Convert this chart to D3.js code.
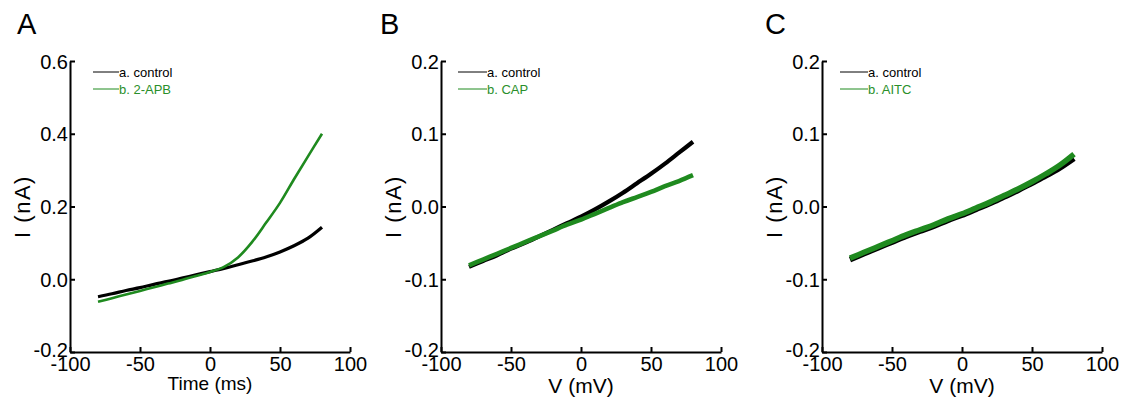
<!DOCTYPE html>
<html>
<head>
<meta charset="utf-8">
<script src="https://cdn.jsdelivr.net/npm/d3@7"></script>
<style>
  html, body { margin: 0; padding: 0; background: #fff; }
  svg { display: block; font-family: "Liberation Sans", Arial, sans-serif; }
</style>
</head>
<body>
<svg id="chart" width="1121" height="408"></svg>
<script>
// ---- data ----
const voltages = [-80, -70, -60, -50, -40, -30, -20, -10, 0, 10, 20, 30, 40, 50, 60, 70, 80];

const aControl = [-0.048, -0.040, -0.031, -0.023, -0.014, -0.006, 0.003, 0.012, 0.021, 0.030, 0.040, 0.050, 0.061, 0.075, 0.092, 0.113, 0.143];
const a2APB    = [-0.062, -0.052, -0.042, -0.032, -0.022, -0.012, -0.002, 0.009, 0.020, 0.034, 0.060, 0.102, 0.155, 0.210, 0.275, 0.338, 0.400];

const bControl = [-0.083, -0.075, -0.067, -0.058, -0.050, -0.041, -0.032, -0.023, -0.014, -0.004, 0.007, 0.019, 0.032, 0.045, 0.059, 0.074, 0.089];
const bCAP     = [-0.081, -0.073, -0.065, -0.057, -0.049, -0.041, -0.033, -0.025, -0.018, -0.010, -0.002, 0.006, 0.013, 0.020, 0.028, 0.035, 0.043];

const cControl = [-0.073, -0.065, -0.057, -0.049, -0.041, -0.034, -0.027, -0.019, -0.012, -0.004, 0.004, 0.013, 0.022, 0.032, 0.042, 0.053, 0.066];
const cAITC    = [-0.071, -0.063, -0.055, -0.047, -0.039, -0.032, -0.025, -0.017, -0.010, -0.002, 0.006, 0.015, 0.024, 0.034, 0.045, 0.057, 0.072];

const xTicks = [-100, -50, 0, 50, 100];
const yTicksA = [-0.2, 0.0, 0.2, 0.4, 0.6];
const yTicksBC = [-0.2, -0.1, 0.0, 0.1, 0.2];

const panels = [
  { letter: "A", left: 70,  letterX: -53, legX: 23, legLen: 26, yDomain: [-0.2, 0.6], yTicks: yTicksA,
    xLabel: "Time (ms)", xLabelSize: 19, xLabelY: 390,
    series: [{ name: "a. control", values: aControl, color: "#000", w: 3.2 },
             { name: "b. 2-APB", values: a2APB, color: "#1f8a1f", w: 2.6 }] },
  { letter: "B", left: 441, letterX: -61, legX: 17, legLen: 29, yDomain: [-0.2, 0.2], yTicks: yTicksBC,
    xLabel: "V (mV)", xLabelSize: 21, xLabelY: 393,
    series: [{ name: "a. control", values: bControl, color: "#000", w: 4.2 },
             { name: "b. CAP", values: bCAP, color: "#1f8a1f", w: 4.6 }] },
  { letter: "C", left: 822, letterX: -57, legX: 18, legLen: 28, yDomain: [-0.2, 0.2], yTicks: yTicksBC,
    xLabel: "V (mV)", xLabelSize: 21, xLabelY: 393,
    series: [{ name: "a. control", values: cControl, color: "#000", w: 5.5 },
             { name: "b. AITC", values: cAITC, color: "#1f8a1f", w: 5.5 }] }
];

const locale = d3.formatLocale({ decimal: ".", thousands: ",", grouping: [3], currency: ["", ""], minus: "-" });
const fmtX = locale.format("d");
const fmtY = locale.format(".1f");

const svg = d3.select("#chart");
const W = 280, plotTop = 61, plotBottom = 352;

panels.forEach(p => {
  const g = svg.append("g");
  const x = d3.scaleLinear().domain([-100, 100]).range([p.left, p.left + W]);
  const y = d3.scaleLinear().domain(p.yDomain).range([plotBottom, plotTop]);

  // series
  const line = d3.line().x((d, i) => x(voltages[i])).y(d => y(d)).curve(d3.curveCatmullRom);
  p.series.forEach(s => {
    g.append("path").datum(s.values)
      .attr("d", line).attr("fill", "none")
      .attr("stroke", s.color).attr("stroke-width", s.w)
      .attr("stroke-linejoin", "round").attr("stroke-linecap", "butt");
  });

  // axes (inward ticks)
  const xAxis = d3.axisBottom(x).tickValues(xTicks).tickSizeInner(-5).tickSizeOuter(0).tickFormat(fmtX);
  const yAxis = d3.axisLeft(y).tickValues(p.yTicks).tickSizeInner(-5).tickSizeOuter(0).tickFormat(fmtY);

  const gx = g.append("g").attr("transform", `translate(0,${plotBottom})`).call(xAxis);
  const gy = g.append("g").attr("transform", `translate(${p.left},0)`).call(yAxis);
  [gx, gy].forEach(a => {
    a.select(".domain").attr("stroke", "#000").attr("stroke-width", 2);
    a.selectAll(".tick line").attr("stroke", "#000").attr("stroke-width", 2);
    a.selectAll(".tick text").attr("fill", "#000").style("font-size", "20px")
      .style("font-family", "'Liberation Sans', Arial, sans-serif");
  });
  gx.selectAll(".tick text").attr("y", 5).attr("dy", "0.71em");
  gy.selectAll(".tick text").attr("x", -2).attr("dy", "0.35em")
    .attr("y", (d, i) => i === 0 ? -3 : 0);

  // axis labels
  g.append("text").attr("x", p.left + W / 2).attr("y", p.xLabelY)
    .attr("text-anchor", "middle").style("font-size", p.xLabelSize + "px").text(p.xLabel);
  g.append("text").attr("transform", `translate(${p.left - 40},${(plotTop + plotBottom) / 2}) rotate(-90)`)
    .attr("text-anchor", "middle").style("font-size", "22px").style("letter-spacing", "1.5px").text("I (nA)");

  // panel letter
  g.append("text").attr("x", p.left + p.letterX).attr("y", 34).style("font-size", "29px").text(p.letter);

  // legend
  p.series.forEach((s, i) => {
    const ly = 72 + i * 17;
    const lx = p.left + p.legX;
    g.append("line").attr("x1", lx).attr("x2", lx + p.legLen)
      .attr("y1", ly).attr("y2", ly).attr("stroke", s.color).attr("stroke-width", 1);
    g.append("text").attr("x", lx + p.legLen).attr("y", ly + 5)
      .style("font-size", "13px").attr("fill", s.color === "#000" ? "#000" : "#2a8f2a").text(s.name);
  });
});
</script>
</body>
</html>
